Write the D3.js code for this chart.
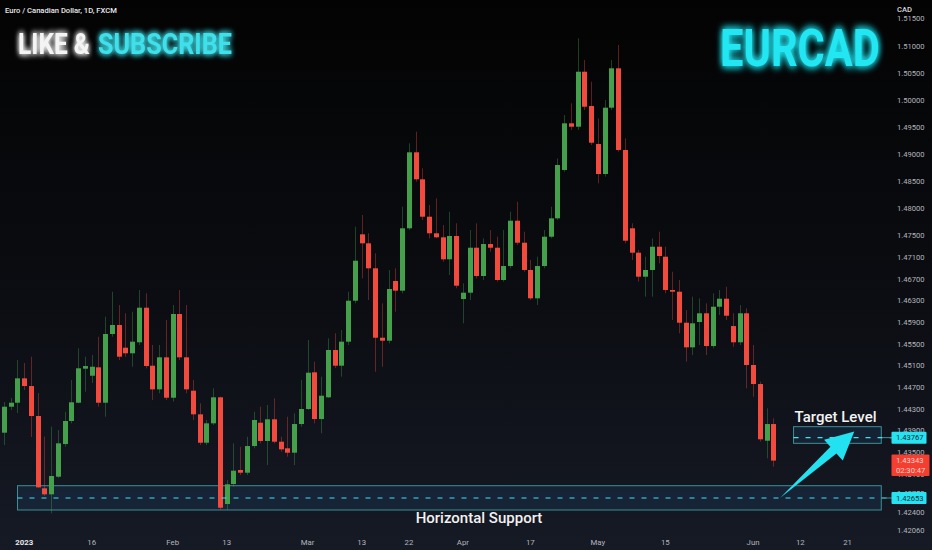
<!DOCTYPE html>
<html><head><meta charset="utf-8">
<script src="https://cdn.jsdelivr.net/npm/d3@7"></script>
<style>
html,body{margin:0;padding:0;background:#0a0b0f;overflow:hidden}
svg{display:block}
</style></head><body>
<svg id="c" width="932" height="550"></svg>
<script>
// ---------- DATA ----------
const startDate = "2022-12-28";
const opens = [1.43858,1.44337,1.44411,1.44861,1.44719,1.44166,1.42832,1.42721,1.43046,1.43649,1.44074,1.44411,1.45039,1.44909,1.45064,1.44411,1.45679,1.45845,1.45426,1.45323,1.45526,1.46164,1.45094,1.44658,1.45249,1.44503,1.46048,1.45249,1.44633,1.44197,1.43673,1.44031,1.44511,1.42542,1.42911,1.43170,1.43120,1.43612,1.44042,1.43705,1.44105,1.43692,1.43570,1.43489,1.44018,1.44295,1.44972,1.44110,1.44511,1.45384,1.45094,1.45537,1.46293,1.47518,1.47352,1.46891,1.45610,1.45555,1.46657,1.46478,1.47629,1.49031,1.48533,1.47843,1.47537,1.47463,1.47057,1.47487,1.46324,1.46441,1.47271,1.46749,1.47339,1.47271,1.46675,1.46933,1.47769,1.47363,1.46860,1.46337,1.46933,1.47474,1.47813,1.48705,1.49566,1.49503,1.50518,1.49885,1.49184,1.48631,1.49854,1.50581,1.49074,1.47629,1.47179,1.46736,1.46860,1.47289,1.47105,1.46491,1.46459,1.45887,1.45433,1.45900,1.46061,1.45457,1.46182,1.46330,1.45826,1.45526,1.46061,1.45107,1.44756,1.43710,1.44018];
const highs = [1.44424,1.44498,1.45199,1.45144,1.45260,1.44590,1.43784,1.43968,1.43908,1.44245,1.44830,1.45415,1.45260,1.45291,1.45629,1.45998,1.46459,1.46214,1.46061,1.46090,1.46491,1.46430,1.45476,1.45476,1.45937,1.46214,1.46491,1.46214,1.44830,1.44400,1.44092,1.44677,1.44522,1.42985,1.43662,1.43599,1.43784,1.44245,1.44337,1.44369,1.44492,1.43784,1.44153,1.44216,1.44830,1.45568,1.45168,1.44891,1.45599,1.45692,1.45753,1.46459,1.47658,1.47874,1.47537,1.47168,1.46245,1.46860,1.46891,1.48027,1.49197,1.49411,1.48736,1.48059,1.48182,1.47690,1.47935,1.47721,1.46614,1.47598,1.47721,1.47444,1.47598,1.47474,1.47598,1.47935,1.48120,1.47566,1.47044,1.47105,1.47598,1.48027,1.48920,1.49719,1.49935,1.51134,1.50734,1.50334,1.49658,1.49996,1.50734,1.51011,1.49289,1.47721,1.47229,1.47105,1.47444,1.47566,1.47289,1.46828,1.46675,1.46122,1.46367,1.46337,1.46245,1.46430,1.46491,1.46551,1.46061,1.46214,1.46153,1.45476,1.44799,1.44308,1.44123];
const lows = [1.43631,1.44277,1.44221,1.44646,1.43778,1.42837,1.42690,1.42371,1.43022,1.43599,1.44031,1.44400,1.44614,1.44775,1.44337,1.44153,1.45629,1.45199,1.45260,1.45075,1.45476,1.45046,1.44461,1.44585,1.44461,1.44430,1.45199,1.44585,1.44092,1.43631,1.43631,1.44000,1.42432,1.42432,1.42861,1.43077,1.43077,1.43570,1.43662,1.43262,1.43662,1.43507,1.43415,1.43262,1.43968,1.44277,1.44031,1.43847,1.44498,1.45051,1.44891,1.45476,1.46245,1.46706,1.46306,1.44983,1.45075,1.45507,1.46090,1.46430,1.47598,1.48489,1.47782,1.47444,1.47444,1.47013,1.46767,1.46522,1.45876,1.46306,1.46706,1.46675,1.47197,1.46644,1.46644,1.46891,1.47321,1.46828,1.46306,1.46214,1.46891,1.47444,1.47782,1.48673,1.49443,1.49443,1.49812,1.49166,1.48459,1.48581,1.49812,1.49042,1.47352,1.47044,1.46644,1.46367,1.46367,1.46983,1.46430,1.45937,1.45692,1.45168,1.45291,1.45476,1.45291,1.45415,1.46029,1.45937,1.45444,1.45476,1.44677,1.44522,1.43692,1.43385,1.43230];
const closes = [1.44337,1.44411,1.44861,1.44719,1.44166,1.42850,1.42721,1.43059,1.43662,1.44074,1.44419,1.45046,1.45088,1.45075,1.44411,1.45679,1.45845,1.45260,1.45323,1.45537,1.46164,1.45088,1.44658,1.45249,1.44503,1.46048,1.45249,1.44658,1.44197,1.43673,1.44031,1.44511,1.42474,1.42906,1.43157,1.43120,1.43612,1.44092,1.43705,1.44105,1.43692,1.43551,1.43489,1.44018,1.44295,1.44965,1.44110,1.44540,1.45384,1.45094,1.45537,1.46293,1.47031,1.47352,1.46891,1.45610,1.45555,1.46509,1.46478,1.47629,1.49031,1.48533,1.47843,1.47537,1.47463,1.47057,1.47487,1.46570,1.46441,1.47271,1.46749,1.47339,1.47271,1.46675,1.46933,1.47769,1.47363,1.46860,1.46337,1.46933,1.47474,1.47813,1.48797,1.49566,1.49503,1.50518,1.49872,1.49208,1.48631,1.49854,1.50581,1.49074,1.47400,1.47179,1.46736,1.46860,1.47289,1.47118,1.46491,1.46459,1.45887,1.45433,1.45876,1.46061,1.45457,1.46182,1.46330,1.46016,1.45526,1.46061,1.45107,1.44756,1.43736,1.44018,1.43343];

const priceTicks = [1.515,1.510,1.505,1.500,1.495,1.490,1.485,1.480,1.475,1.471,1.467,1.463,1.459,1.455,1.451,1.447,1.443,1.439,1.435,1.431,1.4275,1.424,1.4206];
const dateTickDates  = ["2023-01-02","2023-01-16","2023-02-01","2023-02-13","2023-03-01","2023-03-13","2023-03-22","2023-04-03","2023-04-17","2023-05-01","2023-05-15","2023-06-01","2023-06-12","2023-06-21"];
const dateTickLabels = ["2023","16","Feb","13","Mar","13","22","Apr","17","May","15","Jun","12","21"];

const supportLevel = 1.42653;
const supportZone = [1.42432, 1.42880];
const supportFrom = "2022-12-30";
const targetLevel = 1.43767;
const targetZone = [1.43662, 1.43969];
const targetFrom = "2023-06-09";
const zoneEnd = "2023-06-28";
const arrowFrom = ["2023-06-07", 1.42653];
const arrowTo   = ["2023-06-22", 1.43880];
const lastPrice = 1.43343;
const countdown = "02:30:47";

const titleText = "Euro / Canadian Dollar, 1D, FXCM";
const currencyText = "CAD";

// ---------- SETUP ----------
function tradingDays(start, n){
  const out=[]; let t=Date.parse(start+"T00:00:00Z");
  while(out.length<n){ const d=new Date(t); const w=d.getUTCDay();
    if(w!==0&&w!==6) out.push(d.toISOString().slice(0,10)); t+=86400000; }
  return out;
}
const days = tradingDays(startDate, 160);
const idx = s => days.indexOf(s);

const W=932,H=550, plotR=885, plotB=532;
const svg=d3.select("#c");
const defs=svg.append("defs");
const bg=defs.append("linearGradient").attr("id","bg").attr("x1",0).attr("y1",0).attr("x2",0).attr("y2",1);
bg.append("stop").attr("offset","0%").attr("stop-color","#030303");
bg.append("stop").attr("offset","55%").attr("stop-color","#0b0d12");
bg.append("stop").attr("offset","100%").attr("stop-color","#161a25");
function glow(id,sd){
  const f=defs.append("filter").attr("id",id).attr("x","-20%").attr("y","-60%").attr("width","140%").attr("height","220%");
  f.append("feGaussianBlur").attr("in","SourceGraphic").attr("stdDeviation",sd).attr("result","b");
  const m=f.append("feMerge");
  m.append("feMergeNode").attr("in","b");
  m.append("feMergeNode").attr("in","b");
  m.append("feMergeNode").attr("in","SourceGraphic");
}
glow("g1",3); glow("g2",4);
defs.append("clipPath").attr("id","clip").append("rect").attr("x",0).attr("y",0).attr("width",plotR).attr("height",plotB);

svg.append("rect").attr("width",W).attr("height",H).attr("fill","url(#bg)");

const x=d3.scaleLinear().domain([0,114]).range([4,773.3]);
const y=d3.scaleLinear().domain([1.42026,1.51841]).range([plotB,0]);

const data=opens.map((o,i)=>({i,o,h:highs[i],l:lows[i],c:closes[i]}));
const GREEN="#45a04c", RED="#f24a3d";

const plot=svg.append("g").attr("clip-path","url(#clip)");

// zones
function zone(from, z){
  plot.append("rect")
    .attr("x",x(idx(from))).attr("y",y(z[1]))
    .attr("width",x(idx(zoneEnd))-x(idx(from))).attr("height",y(z[0])-y(z[1]))
    .attr("fill","#1b3450").attr("fill-opacity",0.45)
    .attr("stroke","#3c8f98").attr("stroke-width",1);
}
zone(supportFrom, supportZone);
zone(targetFrom, targetZone);

// candles
const cg=plot.append("g");
cg.selectAll("line.w").data(data).join("line").attr("class","w")
  .attr("x1",d=>Math.round(x(d.i))+0.5).attr("x2",d=>Math.round(x(d.i))+0.5)
  .attr("y1",d=>y(d.h)).attr("y2",d=>y(d.l))
  .attr("stroke",d=>d.c>=d.o?GREEN:RED).attr("stroke-opacity",0.38).attr("stroke-width",1);
cg.selectAll("rect.b").data(data).join("rect").attr("class","b")
  .attr("x",d=>Math.round(x(d.i))-2).attr("width",5)
  .attr("y",d=>y(Math.max(d.o,d.c)))
  .attr("height",d=>Math.max(1.5,Math.abs(y(d.o)-y(d.c))))
  .attr("fill",d=>d.c>=d.o?GREEN:RED);

// dashed levels
function level(from,p){
  svg.append("line").attr("x1",x(idx(from))).attr("x2",892)
    .attr("y1",y(p)).attr("y2",y(p))
    .attr("stroke","#3fe3ef").attr("stroke-width",1.2).attr("stroke-dasharray","5,7");
}
level(supportFrom,supportLevel);
level(targetFrom,targetLevel);

// arrow
(function(){
  const x0=x(idx(arrowFrom[0])), y0=y(arrowFrom[1]);
  const x1=x(idx(arrowTo[0])), y1=y(arrowTo[1]);
  const dx=x1-x0, dy=y1-y0, L=Math.hypot(dx,dy), ux=dx/L, uy=dy/L, nx=-uy, ny=ux;
  const hl=28, hw=14, sw=4.5;
  const bx=x1-ux*hl, by=y1-uy*hl;
  const pts=[[x0,y0],[bx+nx*sw,by+ny*sw],[bx+nx*hw,by+ny*hw],[x1,y1],[bx-nx*hw,by-ny*hw],[bx-nx*sw,by-ny*sw]];
  svg.append("path").attr("d",d3.line()(pts)+"Z").attr("fill","#22e1f0");
})();

// annotation texts
svg.append("text").attr("x",x(idx(targetFrom))+42).attr("y",y(targetZone[1])-5)
  .attr("text-anchor","middle").attr("fill","#f2f2f2").attr("font-family","Roboto, Inter, sans-serif")
  .attr("font-weight",500).attr("font-size",15).text("Target Level");
svg.append("text").attr("x",479).attr("y",523)
  .attr("text-anchor","middle").attr("fill","#f2f2f2").attr("font-family","Roboto, Inter, sans-serif")
  .attr("font-weight",500).attr("font-size",15).text("Horizontal Support");

// price axis
const axisFont="Roboto, 'Liberation Sans', sans-serif";
svg.append("text").attr("x",897).attr("y",12).attr("fill","#d8d9de").attr("font-family",axisFont)
  .attr("font-size",7.6).attr("font-weight",500).text(currencyText);
const ya=svg.append("g").attr("transform",`translate(897,0)`)
  .call(d3.axisRight(y).tickValues(priceTicks).tickFormat(d3.format(".5f")).tickSize(0).tickPadding(0));
ya.select(".domain").remove();
ya.selectAll("text").attr("fill","#b2b5be").attr("font-family",axisFont).attr("font-size",7.6);

// price labels
function priceLabel(p, bg, lines){
  const h = lines.length*9.5+2.5;
  const top = y(p)-6;
  svg.append("rect").attr("x",891.5).attr("y",top).attr("width",lines.length>1?38:35).attr("height",h).attr("fill",bg).attr("rx",1);
  lines.forEach((t,k)=>svg.append("text").attr("x",896).attr("y",top+8.8+k*9.5).attr("fill",lines.length>1?"#ffd0cc":"#0b2c33")
    .attr("font-family",axisFont).attr("font-size",7.6).text(t));
}
svg.append("line").attr("x1",882).attr("x2",892).attr("y1",y(targetLevel)).attr("y2",y(targetLevel)).attr("stroke","#3c8f98");
svg.append("line").attr("x1",882).attr("x2",892).attr("y1",y(supportLevel)).attr("y2",y(supportLevel)).attr("stroke","#3c8f98");
priceLabel(targetLevel,"#27e3f2",[d3.format(".5f")(targetLevel)]);
priceLabel(lastPrice,"#f23f30",[d3.format(".5f")(lastPrice),countdown]);
priceLabel(supportLevel,"#27e3f2",[d3.format(".5f")(supportLevel)]);

// time axis
const ta=svg.append("g");
dateTickDates.forEach((d,k)=>{
  ta.append("text").attr("x",x(idx(d))).attr("y",545).attr("text-anchor","middle")
    .attr("fill",k===0?"#e6e7ea":"#b2b5be").attr("font-weight",k===0?700:400)
    .attr("font-family",axisFont).attr("font-size",7.8).text(dateTickLabels[k]);
});

// title
svg.append("text").attr("x",5).attr("y",12.5).attr("fill","#e8e8ea").attr("font-family",axisFont)
  .attr("font-size",7.6).attr("font-weight",500).text(titleText);

// promo texts (horizontally condensed to the reference widths)
const promoFont="'Liberation Sans Narrow', 'Roboto', sans-serif";
function promo(txt, px, py, size, width, fill, filt){
  const g=svg.append("g");
  const t=g.append("text").attr("x",0).attr("y",0).attr("fill",fill).attr("filter",`url(#${filt})`)
    .attr("font-family",promoFont).attr("font-weight",700).attr("font-size",size).text(txt);
  const w=t.node().getComputedTextLength();
  g.attr("transform",`translate(${px},${py}) scale(${width/w},1)`);
}
promo("LIKE &", 18, 53.5, 30, 72, "#f4f4f4", "g1");
promo("SUBSCRIBE", 98, 53.5, 30, 134, "#3fe0ea", "g1");
promo("EURCAD", 720, 66, 52, 160, "#22e6f2", "g2");
</script>
</body></html>
